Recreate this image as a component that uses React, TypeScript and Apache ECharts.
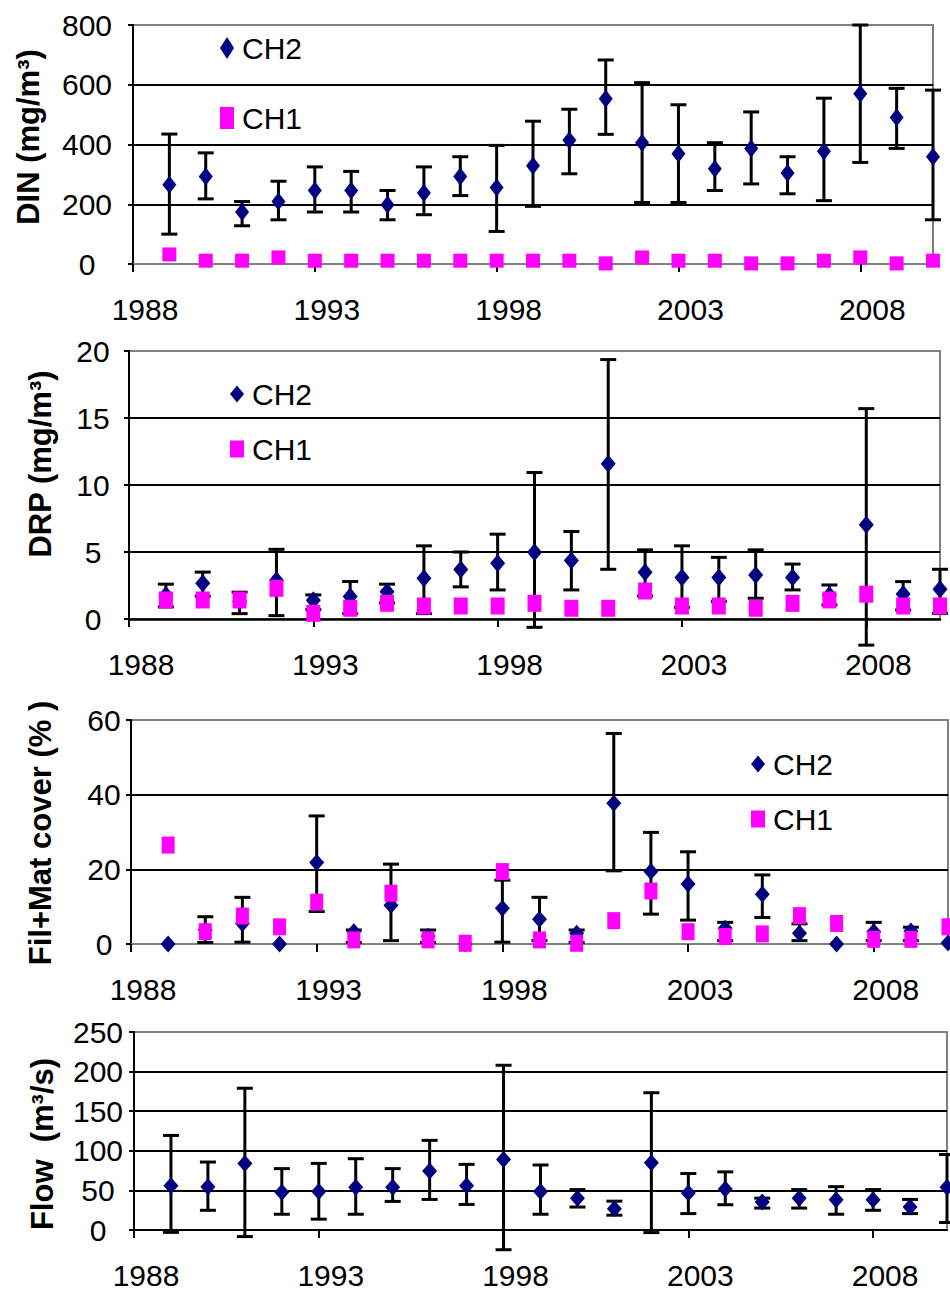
import React, { useEffect, useRef } from "react";
import * as echarts from "echarts";

// ---------- data ----------
const years = [1989, 1990, 1991, 1992, 1993, 1994, 1995, 1996, 1997, 1998, 1999, 2000, 2001, 2002, 2003, 2004, 2005, 2006, 2007, 2008, 2009, 2010];
const xTickValues = [1988, 1993, 1998, 2003, 2008];

const dinCH2 = [265, 293, 174, 209, 246, 246, 198, 238, 293, 256, 329, 414, 553, 406, 369, 319, 387, 305, 377, 570, 490, 359];
const dinCH2Low = [100, 218, 128, 148, 174, 174, 148, 165, 229, 109, 193, 302, 434, 206, 206, 246, 268, 235, 212, 340, 387, 148];
const dinCH2High = [435, 372, 209, 277, 325, 310, 246, 325, 359, 397, 478, 518, 683, 607, 533, 406, 509, 359, 555, 800, 588, 582];
const dinCH1 = [32, 11, 11, 22, 11, 11, 11, 11, 11, 11, 11, 11, 2, 22, 11, 11, 2, 2, 11, 22, 2, 11];

const drpCH2 = [1.8, 2.67, 1.3, 2.9, 1.4, 1.67, 2.04, 3.04, 3.7, 4.16, 4.98, 4.36, 11.58, 3.49, 3.09, 3.09, 3.29, 3.09, 1.8, 7.03, 1.87, 2.22];
const drpCH2Low = [0.9, 1.7, 0.4, 0.25, 0.7, 0.4, 1.2, 0.4, 2.4, 2.17, -0.62, 2.17, 3.71, 1.72, 0.87, 1.3, 1.55, 2.17, 1.05, -1.95, 0.67, 0.42];
const drpCH2High = [2.6, 3.5, 2.0, 5.2, 1.8, 2.8, 2.6, 5.46, 5.0, 6.33, 10.93, 6.53, 19.36, 5.16, 5.46, 4.6, 5.16, 4.1, 2.54, 15.7, 2.79, 3.71];
const drpCH1 = [1.42, 1.42, 1.42, 2.29, 0.42, 0.8, 1.17, 0.97, 0.97, 0.97, 1.17, 0.8, 0.8, 2.09, 0.97, 0.97, 0.8, 1.17, 1.42, 1.85, 0.97, 0.97];

const coverCH2 = [0, 3.75, 5.5, 0, 21.8, 3.3, 10.4, 2.1, 0, 9.55, 6.6, 2.9, 37.7, 19.4, 16.1, 4.2, 13.3, 2.9, 0, 3.3, 3.5, 0.3];
const coverCH2Low = [null, 0.4, 0.5, null, 8.7, 0.4, 0.9, 0.4, null, 0.5, 0.9, 0.4, 19.6, 8.0, 6.4, 0.9, 7.1, 0.9, null, 0.9, 0.9, null];
const coverCH2High = [null, 7.3, 12.5, null, 34.3, 3.75, 21.4, 3.75, null, 17.1, 12.5, 3.75, 56.4, 29.9, 24.7, 5.8, 18.5, 5.4, null, 5.8, 4.5, null];
const coverCH1 = [26.5, 3.3, 7.5, 4.6, 11.2, 1.1, 13.6, 1.1, 0.2, 19.4, 1.1, 0.2, 6.25, 14.2, 3.3, 2.0, 2.7, 7.6, 5.5, 1.25, 1.25, 4.6];

const flowCH2 = [56, 54.7, 84.1, 47.6, 48.5, 53.9, 53.9, 74.6, 56, 89.1, 48.5, 40.2, 26.9, 85, 46.8, 51.7, 35.2, 40.2, 38.1, 38.1, 29, 53.9];
const flowCH2Low = [-3, 24.9, -8.3, 19.9, 13.7, 19.9, 36.1, 38.6, 32.3, -24.9, 19.9, 29, 18.7, -3.3, 20.7, 31.9, 27.7, 27.7, 19.9, 24.9, 20.7, 9.5];
const flowCH2High = [119.4, 85.8, 179, 77.5, 84.1, 90, 77.5, 113.2, 82.9, 208, 82.1, 51, 36.4, 173.3, 71.3, 73.4, 40.2, 51, 54.7, 51, 38.6, 95.3];

const axisNames = ["DIN (mg/m³)", "DRP (mg/m³)", "Fil+Mat cover (% )", "Flow  (m³/s)"];
const legendNames = ["CH2", "CH1"];

// ---------- layout / style ----------
const FONT = '"Liberation Sans", Arial, sans-serif';
const NAVY = "#000080";
const MAGENTA = "#ff00ff";
const GRAY = "#808080";

type Panel = {
  left: number; top: number; width: number; height: number;
  yMax: number; yStep: number; yLabelMargin: number;
  xLineColor: string; xLineWidth: number;
  diamond: [number, number]; square: [number, number];
  name: { x: number; y: number };
  ch2: number[]; low: (number | null)[]; high: (number | null)[]; ch1?: number[];
  legend?: { left: number; top: number; gap: number; itemH: number };
};

const panels: Panel[] = [
  {
    left: 133, top: 25, width: 800, height: 239, yMax: 800, yStep: 200, yLabelMargin: 46,
    xLineColor: GRAY, xLineWidth: 2, diamond: [14, 18], square: [14, 14], name: { x: 28, y: 137 },
    ch2: dinCH2, low: dinCH2Low, high: dinCH2High, ch1: dinCH1,
    legend: { left: 220, top: 33, gap: 40, itemH: 22 },
  },
  {
    left: 129, top: 351, width: 811, height: 268, yMax: 20, yStep: 5, yLabelMargin: 36,
    xLineColor: "#000", xLineWidth: 2.5, diamond: [15, 18], square: [14, 17], name: { x: 40, y: 464 },
    ch2: drpCH2, low: drpCH2Low, high: drpCH2High, ch1: drpCH1,
    legend: { left: 230, top: 379, gap: 25, itemH: 17 },
  },
  {
    left: 131, top: 720, width: 817, height: 224, yMax: 60, yStep: 20, yLabelMargin: 27,
    xLineColor: GRAY, xLineWidth: 2, diamond: [15, 17], square: [13, 17], name: { x: 40, y: 833 },
    ch2: coverCH2, low: coverCH2Low, high: coverCH2High, ch1: coverCH1,
    legend: { left: 751, top: 749, gap: 25, itemH: 17 },
  },
  {
    left: 134, top: 1032, width: 813, height: 201, yMax: 250, yStep: 50, yLabelMargin: 36,
    xLineColor: "#000", xLineWidth: 2, diamond: [15, 17], square: [13, 17], name: { x: 42, y: 1144 },
    ch2: flowCH2, low: flowCH2Low, high: flowCH2High,
  },
];

function buildOption() {
  const grid: any[] = [];
  const xAxis: any[] = [];
  const yAxis: any[] = [];
  const series: any[] = [];
  const legend: any[] = [];
  const graphic: any[] = [];

  panels.forEach((p, i) => {
    grid.push({
      left: p.left, top: p.top, width: p.width, height: p.height,
      show: true, borderColor: GRAY, borderWidth: 2, backgroundColor: "transparent",
    });
    xAxis.push({
      type: "value", gridIndex: i, min: 1988, max: 2010,
      axisLine: { show: true, onZero: false, lineStyle: { color: p.xLineColor, width: p.xLineWidth } },
      axisTick: { show: true, customValues: xTickValues, length: 8, lineStyle: { color: "#000", width: 2 } },
      axisLabel: {
        customValues: xTickValues, fontSize: 30, fontFamily: FONT, color: "#000",
        margin: 30, padding: [0, 0, 0, 24], formatter: (v: number) => String(v),
      },
      splitLine: { show: false },
    });
    yAxis.push({
      type: "value", gridIndex: i, min: 0, max: p.yMax, interval: p.yStep,
      axisLine: { show: true, onZero: false, lineStyle: { color: "#000", width: 2 } },
      axisTick: { show: true, length: 5, lineStyle: { color: "#000", width: 2 } },
      axisLabel: { fontSize: 30, fontFamily: FONT, color: "#000", align: "center", margin: p.yLabelMargin },
      splitLine: { show: true, showMinLine: false, showMaxLine: false, lineStyle: { color: "#000", width: 2 } },
    });

    const errData = years
      .map((y, k) => [y, p.low[k], p.high[k]])
      .filter((d) => d[1] != null && d[2] != null);
    series.push({
      type: "custom", name: "CH2 error", xAxisIndex: i, yAxisIndex: i, clip: false,
      encode: { x: 0, y: [1, 2] }, data: errData, silent: true,
      renderItem: (_params: any, api: any) => {
        const x = api.value(0);
        const lo = api.coord([x, api.value(1)]);
        const hi = api.coord([x, api.value(2)]);
        const cap = 8;
        const style = { stroke: "#000", lineWidth: 3 };
        return {
          type: "group",
          children: [
            { type: "line", shape: { x1: lo[0], y1: lo[1], x2: hi[0], y2: hi[1] }, style },
            { type: "line", shape: { x1: lo[0] - cap, y1: lo[1], x2: lo[0] + cap, y2: lo[1] }, style },
            { type: "line", shape: { x1: hi[0] - cap, y1: hi[1], x2: hi[0] + cap, y2: hi[1] }, style },
          ],
        };
      },
    });
    series.push({
      type: "scatter", name: "CH2", xAxisIndex: i, yAxisIndex: i, symbol: "diamond",
      symbolSize: p.diamond, itemStyle: { color: NAVY, opacity: 1 }, silent: true,
      data: years.map((y, k) => [y, p.ch2[k]]),
    });
    if (p.ch1) {
      const ch1 = p.ch1;
      series.push({
        type: "scatter", name: "CH1", xAxisIndex: i, yAxisIndex: i, symbol: "rect",
        symbolSize: p.square, itemStyle: { color: MAGENTA, opacity: 1 }, silent: true,
        data: years.map((y, k) => [y, ch1[k]]),
      });
    }
    if (p.legend) {
      legend.push({
        data: legendNames, orient: "vertical", left: p.legend.left, top: p.legend.top,
        itemGap: p.legend.gap, itemWidth: 14, itemHeight: p.legend.itemH, padding: 0,
        selectedMode: false, textStyle: { fontSize: 30, fontFamily: FONT, color: "#000", padding: [0, 0, 0, 3] },
      });
    }
    graphic.push({
      type: "text", x: p.name.x, y: p.name.y, rotation: Math.PI / 2,
      style: {
        text: axisNames[i], fontSize: 31, fontWeight: "bold", fontFamily: FONT,
        fill: "#000", align: "center", verticalAlign: "middle",
      },
    });
  });

  return { animation: false, backgroundColor: "#fff", grid, xAxis, yAxis, series, legend, graphic };
}

export default function App() {
  const ref = useRef<HTMLDivElement>(null);
  useEffect(() => {
    if (!ref.current) return;
    const chart = echarts.init(ref.current, undefined, { renderer: "svg" });
    chart.setOption(buildOption() as any);
    return () => chart.dispose();
  }, []);
  return (
    <div
      ref={ref}
      style={{ position: "absolute", left: 0, top: 0, width: 950, height: 1290, background: "#fff" }}
    />
  );
}
